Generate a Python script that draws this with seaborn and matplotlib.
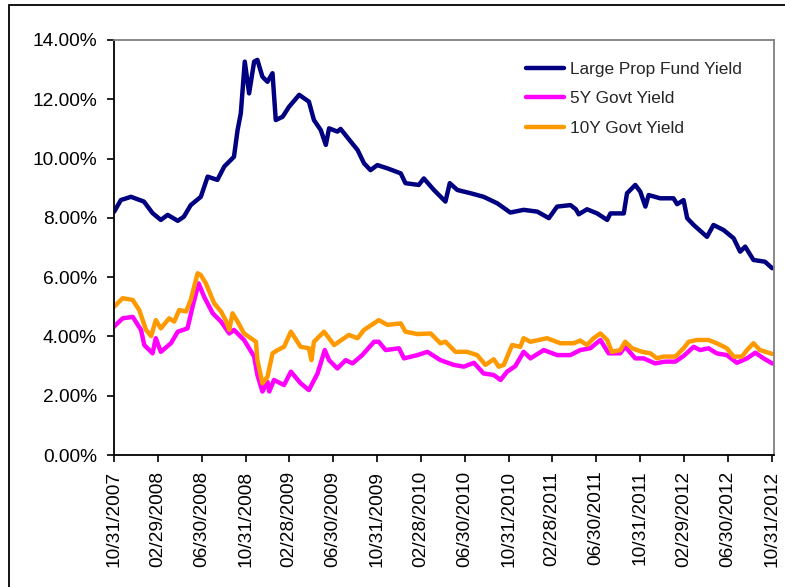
import matplotlib
matplotlib.use('Agg')
import matplotlib.pyplot as plt
import matplotlib.patches as patches
from matplotlib.ticker import FuncFormatter
import seaborn as sns
import pandas as pd

# series values (yield in %)
fund_dates = ['2007-10-31', '2007-11-19', '2007-12-17', '2008-01-22', '2008-02-15', '2008-03-09',
              '2008-03-28', '2008-04-25', '2008-05-12', '2008-05-31', '2008-06-28', '2008-07-17',
              '2008-08-13', '2008-09-01', '2008-09-28', '2008-10-08', '2008-10-17', '2008-10-28',
              '2008-11-09', '2008-11-23', '2008-12-02', '2008-12-16', '2008-12-30', '2009-01-13',
              '2009-01-22', '2009-02-10', '2009-02-28', '2009-03-28', '2009-04-24', '2009-05-08',
              '2009-05-27', '2009-06-10', '2009-06-19', '2009-07-12', '2009-07-21', '2009-08-13',
              '2009-09-06', '2009-09-24', '2009-10-12', '2009-10-31', '2009-11-28', '2010-01-04',
              '2010-01-17', '2010-02-23', '2010-03-09', '2010-04-06', '2010-05-08', '2010-05-20',
              '2010-06-10', '2010-07-17', '2010-08-22', '2010-09-29', '2010-11-04', '2010-12-11',
              '2011-01-18', '2011-02-19', '2011-03-14', '2011-04-20', '2011-05-05', '2011-05-13',
              '2011-06-05', '2011-07-03', '2011-07-31', '2011-08-09', '2011-09-15', '2011-09-24',
              '2011-10-17', '2011-10-31', '2011-11-14', '2011-11-23', '2011-12-25', '2012-01-31',
              '2012-02-10', '2012-02-28', '2012-03-09', '2012-03-27', '2012-05-03', '2012-05-21',
              '2012-06-18', '2012-07-16', '2012-08-03', '2012-08-17', '2012-09-09', '2012-10-11',
              '2012-10-31']
fund_yield = [8.20, 8.60, 8.71, 8.55, 8.16, 7.93,
              8.10, 7.90, 8.04, 8.43, 8.71, 9.39,
              9.28, 9.73, 10.06, 10.96, 11.53, 13.27,
              12.20, 13.27, 13.33, 12.76, 12.59, 12.88,
              11.30, 11.41, 11.75, 12.15, 11.92, 11.30,
              10.96, 10.46, 11.02, 10.91, 11.00, 10.65,
              10.29, 9.84, 9.61, 9.78, 9.67, 9.50,
              9.17, 9.11, 9.33, 8.94, 8.55, 9.17,
              8.94, 8.83, 8.71, 8.49, 8.18, 8.27,
              8.21, 7.99, 8.38, 8.43, 8.29, 8.12,
              8.29, 8.15, 7.93, 8.15, 8.15, 8.83,
              9.11, 8.88, 8.38, 8.77, 8.66, 8.66,
              8.46, 8.60, 7.99, 7.76, 7.36, 7.76,
              7.59, 7.31, 6.86, 7.03, 6.58, 6.52,
              6.30]

govt5_dates = ['2007-10-31', '2007-11-24', '2007-12-22', '2008-01-14', '2008-01-23', '2008-02-15',
               '2008-02-24', '2008-03-09', '2008-04-06', '2008-04-25', '2008-05-22', '2008-06-05',
               '2008-06-22', '2008-07-07', '2008-07-31', '2008-08-23', '2008-09-15', '2008-09-28',
               '2008-10-26', '2008-11-23', '2008-12-02', '2008-12-16', '2008-12-30', '2009-01-04',
               '2009-01-17', '2009-02-14', '2009-03-05', '2009-04-01', '2009-04-24', '2009-05-18',
               '2009-06-07', '2009-06-19', '2009-07-12', '2009-08-04', '2009-08-23', '2009-09-19',
               '2009-10-22', '2009-11-04', '2009-11-23', '2009-12-30', '2010-01-13', '2010-02-19',
               '2010-03-19', '2010-04-24', '2010-05-31', '2010-06-28', '2010-07-26', '2010-08-22',
               '2010-09-19', '2010-10-08', '2010-10-26', '2010-11-18', '2010-12-11', '2010-12-30',
               '2011-02-05', '2011-03-14', '2011-04-20', '2011-05-17', '2011-06-14', '2011-07-12',
               '2011-08-04', '2011-09-05', '2011-09-19', '2011-10-17', '2011-11-09', '2011-12-11',
               '2012-01-08', '2012-02-05', '2012-02-28', '2012-03-27', '2012-04-14', '2012-05-07',
               '2012-05-30', '2012-06-27', '2012-07-25', '2012-08-22', '2012-09-14', '2012-10-07',
               '2012-10-31']
govt5_yield = [4.33, 4.61, 4.66, 4.22, 3.71, 3.43,
               3.94, 3.48, 3.77, 4.16, 4.27, 5.00,
               5.79, 5.34, 4.78, 4.50, 4.10, 4.22,
               3.88, 3.32, 2.70, 2.14, 2.47, 2.14,
               2.53, 2.36, 2.81, 2.42, 2.19, 2.75,
               3.54, 3.20, 2.92, 3.20, 3.09, 3.37,
               3.82, 3.82, 3.54, 3.60, 3.26, 3.37,
               3.48, 3.20, 3.04, 2.98, 3.11, 2.75,
               2.70, 2.53, 2.81, 3.00, 3.48, 3.26,
               3.54, 3.37, 3.37, 3.54, 3.60, 3.88,
               3.43, 3.43, 3.65, 3.26, 3.26, 3.09,
               3.15, 3.15, 3.34, 3.65, 3.54, 3.60,
               3.43, 3.37, 3.11, 3.26, 3.45, 3.26,
               3.09]

govt10_dates = ['2007-10-31', '2007-11-24', '2007-12-22', '2008-01-09', '2008-01-28', '2008-02-11',
                '2008-02-24', '2008-03-09', '2008-04-01', '2008-04-15', '2008-04-29', '2008-05-18',
                '2008-05-31', '2008-06-19', '2008-06-28', '2008-07-12', '2008-08-04', '2008-08-23',
                '2008-09-05', '2008-09-15', '2008-09-24', '2008-10-08', '2008-10-26', '2008-11-14',
                '2008-11-28', '2008-12-02', '2008-12-16', '2008-12-30', '2009-01-13', '2009-01-27',
                '2009-02-14', '2009-03-05', '2009-04-01', '2009-04-24', '2009-05-01', '2009-05-08',
                '2009-06-05', '2009-07-03', '2009-08-13', '2009-09-06', '2009-09-24', '2009-11-04',
                '2009-11-28', '2010-01-04', '2010-01-17', '2010-02-19', '2010-03-28', '2010-04-24',
                '2010-05-08', '2010-06-05', '2010-07-07', '2010-08-04', '2010-08-27', '2010-09-19',
                '2010-10-03', '2010-10-17', '2010-11-09', '2010-12-02', '2010-12-11', '2010-12-30',
                '2011-02-14', '2011-03-23', '2011-04-29', '2011-05-17', '2011-06-05', '2011-06-23',
                '2011-07-12', '2011-07-31', '2011-08-13', '2011-09-05', '2011-09-19', '2011-10-08',
                '2011-11-05', '2011-11-28', '2011-12-16', '2012-01-03', '2012-02-05', '2012-02-28',
                '2012-03-13', '2012-04-05', '2012-05-07', '2012-05-30', '2012-06-27', '2012-07-16',
                '2012-08-08', '2012-08-22', '2012-09-09', '2012-09-27', '2012-10-31']
govt10_yield = [5.00, 5.29, 5.23, 4.89, 4.22, 4.01,
                4.55, 4.27, 4.61, 4.50, 4.89, 4.84,
                5.23, 6.13, 6.07, 5.79, 5.12, 4.84,
                4.55, 4.22, 4.78, 4.50, 4.10, 3.94,
                3.82, 3.20, 2.42, 2.64, 3.43, 3.54,
                3.65, 4.16, 3.65, 3.60, 3.20, 3.82,
                4.16, 3.71, 4.05, 3.94, 4.22, 4.55,
                4.39, 4.44, 4.16, 4.08, 4.10, 3.77,
                3.82, 3.48, 3.48, 3.37, 3.04, 3.23,
                2.98, 3.04, 3.71, 3.65, 3.94, 3.82,
                3.94, 3.77, 3.77, 3.86, 3.71, 3.94,
                4.10, 3.88, 3.48, 3.54, 3.82, 3.60,
                3.48, 3.43, 3.26, 3.32, 3.32, 3.60,
                3.82, 3.88, 3.88, 3.77, 3.60, 3.32,
                3.32, 3.54, 3.77, 3.54, 3.41]

series_names = ['Large Prop Fund Yield', '5Y Govt Yield', '10Y Govt Yield']
series_colors = ['#000080', '#FF00FF', '#FF9900']

tick_dates = ['2007-10-31', '2008-02-29', '2008-06-30', '2008-10-31', '2009-02-28', '2009-06-30',
              '2009-10-31', '2010-02-28', '2010-06-30', '2010-10-31', '2011-02-28', '2011-06-30',
              '2011-10-31', '2012-02-29', '2012-06-30', '2012-10-31']
y_ticks = [0, 2, 4, 6, 8, 10, 12, 14]

frames = []
for name, d, v in zip(series_names,
                      [fund_dates, govt5_dates, govt10_dates],
                      [fund_yield, govt5_yield, govt10_yield]):
    frames.append(pd.DataFrame({'date': pd.to_datetime(d), 'yield': v, 'series': name}))
df = pd.concat(frames, ignore_index=True)

sns.set_style('white')
plt.rcParams['font.family'] = ['Liberation Sans', 'DejaVu Sans']

fig = plt.figure(figsize=(7.85, 5.87), dpi=100)
ax = fig.add_axes([114 / 785, 1 - 455 / 587, 660 / 785, 415 / 587])

sns.lineplot(data=df, x='date', y='yield', hue='series', hue_order=series_names,
             palette=dict(zip(series_names, series_colors)), linewidth=3.2,
             estimator=None, sort=True, ax=ax)

# chart-area frame like Excel
fig.patches.append(patches.Rectangle((9 / 785, -0.1), 1.2, 1.1 - 4.5 / 587, transform=fig.transFigure,
                                     fill=False, edgecolor='black', linewidth=1.3))

ax.set_ylim(0, 14)
ax.set_yticks(y_ticks)
ax.yaxis.set_major_formatter(FuncFormatter(lambda v, p: f'{v:.2f}%'))
ticks = pd.to_datetime(tick_dates)
ax.set_xticks(ticks)
ax.set_xticklabels([t.strftime('%m/%d/%Y') for t in ticks], rotation=90)
ax.set_xlim(ticks[0], ticks[-1] + pd.Timedelta(days=5))
ax.set_xlabel('')
ax.set_ylabel('')

ax.tick_params(axis='both', which='major', direction='out', length=4.8, width=1.2,
               color='black', labelsize=13.8, labelcolor='black', left=True, bottom=True)
ax.tick_params(axis='y', pad=7.5)
ax.tick_params(axis='x', pad=6.5)
for side in ['left', 'bottom']:
    ax.spines[side].set_color('black')
    ax.spines[side].set_linewidth(1.3)
for side in ['top', 'right']:
    ax.spines[side].set_color('#808080')
    ax.spines[side].set_linewidth(1.3)

handles, labels = ax.get_legend_handles_labels()
ax.legend(handles, labels, loc='upper left', bbox_to_anchor=(0.601, 0.985), frameon=False,
          fontsize=12.4, handlelength=2.2, handletextpad=0.35, labelspacing=0.85)
for line in ax.get_legend().get_lines():
    line.set_linewidth(3.2)

fig.savefig('out.png', dpi=100)
